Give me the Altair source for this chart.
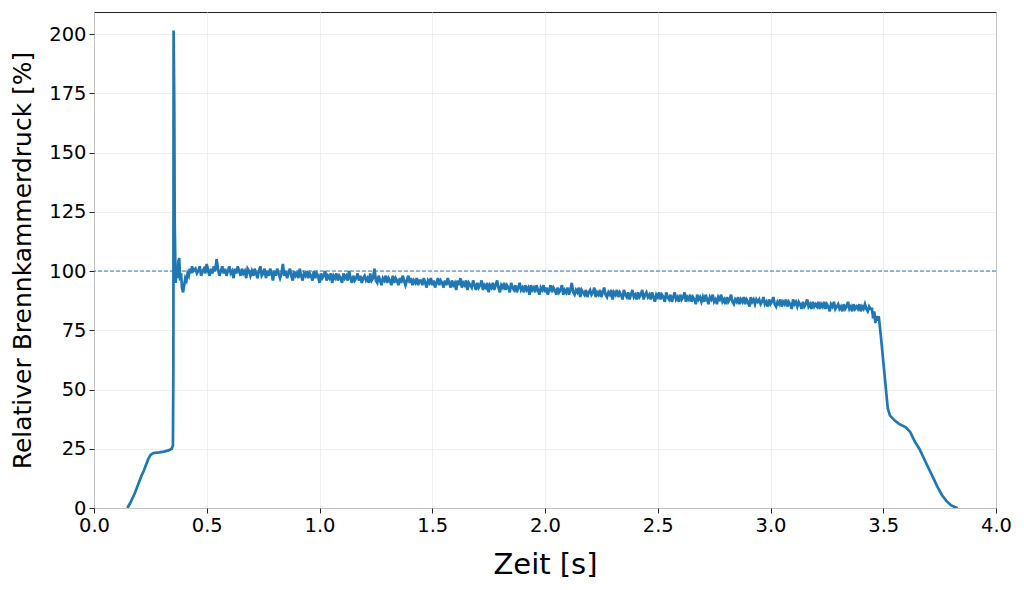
import altair as alt
import pandas as pd

# Start-up transient (time [s], relative pressure [%])
t_start = [0.148, 0.16, 0.17, 0.18, 0.19, 0.20, 0.21, 0.22, 0.23, 0.24, 0.25, 0.26, 0.27, 0.29, 0.31,
           0.33, 0.345, 0.350, 0.352, 0.353, 0.356, 0.358, 0.362, 0.366, 0.370, 0.374, 0.378, 0.382,
           0.386, 0.390, 0.395, 0.40, 0.405, 0.41, 0.415, 0.42, 0.425, 0.43, 0.435, 0.44]
p_start = [0, 2, 4, 6, 8.5, 11, 13.5, 15.5, 18, 20.5, 22.3, 23, 23.3, 23.5, 23.8,
           24.3, 25, 26.5, 60, 201.5, 170, 120, 95, 101, 97, 104, 105.5, 96,
           99, 93, 91, 94, 97, 96, 99, 98, 101, 99, 102, 100]

# Steady burn, sampled every 0.00625 s from 0.45 s
burn_t0 = 0.45
burn_dt = 0.00625
p_burn = [
    101, 99, 100, 102, 98, 100, 101, 99, 103, 100, 98, 101, 99, 102, 100, 105, 101, 98, 100, 102,
    99, 101, 98, 100, 102, 99, 100, 97, 101, 99, 102, 100, 98, 101, 99, 100, 97, 101, 100, 98,
    100, 98, 101, 99, 97, 100, 102, 98, 99, 101, 97, 100, 98, 101, 99, 96, 100, 98, 101, 99,
    97, 99, 103, 98, 100, 97, 99, 101, 98, 96, 100, 98, 99, 97, 101, 98, 96, 99, 98, 100,
    97, 99, 98, 96, 100, 97, 99, 98, 95, 99, 97, 98, 100, 96, 98, 97, 99, 95, 98, 97,
    99, 96, 98, 97, 95, 99, 97, 98, 96, 100, 97, 95, 98, 96, 97, 99, 96, 98, 95, 97,
    98, 96, 97, 95, 99, 96, 97, 101, 96, 95, 98, 96, 94, 97, 96, 98, 95, 97, 96, 94,
    98, 95, 97, 96, 94, 97, 95, 98, 96, 94, 96, 98, 95, 97, 94, 96, 95, 97, 94, 96,
    96, 94, 97, 95, 93, 96, 95, 97, 94, 96, 93, 95, 97, 94, 96, 95, 93, 96, 94, 97,
    95, 93, 96, 94, 95, 92, 96, 94, 97, 93, 95, 94, 96, 92, 95, 94, 93, 96, 94, 92,
    95, 93, 94, 96, 92, 94, 93, 95, 91, 94, 93, 95, 92, 94, 96, 93, 91, 94, 93, 95,
    92, 94, 93, 91, 95, 93, 92, 94, 91, 93, 95, 92, 93, 91, 94, 92, 93, 90, 94, 92,
    93, 91, 94, 92, 90, 93, 92, 94, 91, 93, 90, 92, 94, 91, 93, 92, 90, 93, 91, 92,
    94, 90, 92, 91, 93, 90, 92, 95, 91, 90, 92, 91, 93, 89, 92, 91, 90, 92, 89, 91,
    92, 90, 91, 93, 89, 91, 90, 92, 89, 91, 93, 90, 89, 91, 90, 92, 88, 91, 90, 92,
    89, 91, 90, 88, 92, 90, 89, 91, 88, 90, 92, 89, 90, 88, 91, 89, 90, 92, 88, 90,
    91, 89, 90, 88, 91, 89, 87, 90, 89, 91, 88, 90, 89, 87, 91, 89, 88, 90, 87, 89,
    91, 88, 89, 87, 90, 88, 89, 91, 87, 89, 88, 90, 87, 89, 88, 86, 90, 88, 89, 87,
    89, 87, 90, 88, 86, 89, 88, 90, 87, 88, 86, 89, 88, 90, 87, 88, 86, 89, 87, 88,
    90, 87, 86, 88, 87, 89, 86, 88, 87, 89, 86, 88, 87, 85, 89, 87, 88, 86, 88, 87,
    88, 86, 87, 89, 86, 87, 85, 88, 86, 87, 89, 86, 85, 87, 86, 88, 85, 87, 86, 88,
    85, 87, 86, 84, 88, 86, 87, 85, 87, 86, 84, 87, 85, 86, 88, 85, 86, 84, 87, 85,
    86, 85, 87, 84, 86, 85, 87, 84, 86, 85, 83, 86, 85, 87, 84, 85, 86, 84, 85, 83,
    86, 84, 85, 87, 84, 85, 83, 86, 84, 85, 84, 86, 83, 85, 84, 86, 84, 83, 85, 84,
    84,
]

# Tail-off
t_end = [3.455, 3.46, 3.465, 3.47, 3.475, 3.48, 3.49, 3.50, 3.51, 3.52, 3.53, 3.55, 3.57, 3.60,
         3.62, 3.64, 3.66, 3.68, 3.70, 3.72, 3.74, 3.76, 3.78, 3.80, 3.82, 3.83]
p_end = [80, 83, 78, 81, 79, 81, 72, 62, 52, 42, 39, 37, 35.5, 34,
         32, 28, 25, 21, 17, 13, 9, 5.5, 3, 1.2, 0.3, 0]

reference_level = [100]
x_ticks = [0.0, 0.5, 1.0, 1.5, 2.0, 2.5, 3.0, 3.5, 4.0]
y_ticks = [0, 25, 50, 75, 100, 125, 150, 175, 200]

t_burn = [round(burn_t0 + i * burn_dt, 5) for i in range(len(p_burn))]
df = pd.DataFrame({
    "t": t_start + t_burn + t_end,
    "p": p_start + p_burn + p_end,
})
df["order"] = range(len(df))

BLUE = "#1f77b4"
FONT = "DejaVu Sans"

x = alt.X("t:Q", title="Zeit [s]",
          scale=alt.Scale(domain=[0, 4], nice=False, zero=False),
          axis=alt.Axis(values=x_ticks, format=".1f", titleFontSize=29,
                        titlePadding=16, labelFontSize=19.5, labelFlush=False))
y = alt.Y("p:Q", title="Relativer Brennkammerdruck [%]",
          scale=alt.Scale(domain=[0, 209.3], nice=False),
          axis=alt.Axis(values=y_ticks, titleFontSize=25, titlePadding=13,
                        labelFontSize=19.5, labelFlush=False))

line = alt.Chart(df).mark_line(color=BLUE, strokeWidth=2.7, clip=True).encode(
    x=x, y=y, order="order:Q"
)

ref = alt.Chart(pd.DataFrame({"r": reference_level})).mark_rule(
    color=BLUE, strokeWidth=1, strokeDash=[4, 2]
).encode(y=alt.Y("r:Q"))

chart = alt.layer(ref, line).properties(
    width=902, height=496,
    autosize=alt.AutoSizeParams(type="none"),
    padding={"left": 86, "top": 4, "right": 20, "bottom": 74},
).configure(
    font=FONT,
).configure_view(
    stroke="#222222", strokeWidth=1,
).configure_axis(
    grid=True, gridColor="#ebebeb", gridWidth=0.8,
    domain=False, tickColor="#222222", tickSize=5, tickWidth=1,
    labelColor="#000000", titleColor="#000000", labelFont=FONT, titleFont=FONT,
    titleFontWeight="normal", labelPadding=3,
)

chart.save("out.html", embed_options={"renderer": "svg", "actions": False})
